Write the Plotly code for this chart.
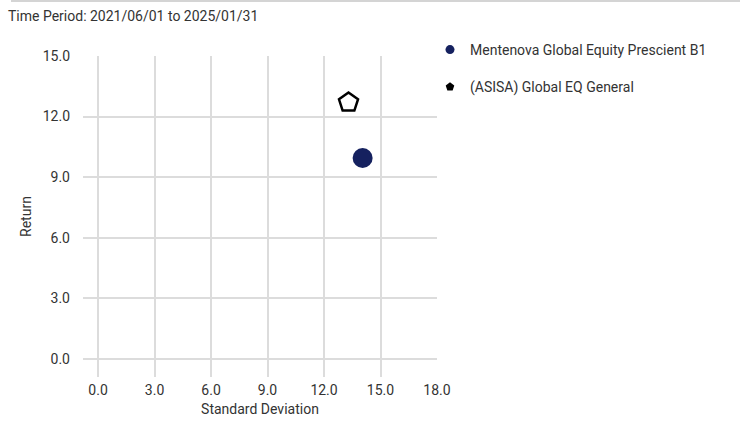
import plotly.graph_objects as go

names = ["Mentenova Global Equity Prescient B1", "(ASISA) Global EQ General"]
std_dev = [14.05, 13.3]
returns = [9.95, 12.7]
symbols = ["circle", "pentagon-open"]
colors = ["#15215f", "#000000"]
x_ticks = [0, 3, 6, 9, 12, 15, 18]
y_ticks = [0, 3, 6, 9, 12, 15]

FONT = "Roboto, Arial, sans-serif"
W, H = 746, 447
L, R, T, B = 83, 309, 56, 70
pw, ph = W - L - R, H - T - B

def px(x):
    return (x - L) / pw

def py(y):
    return (H - B - y) / ph

fig = go.Figure()
for i in range(len(names)):
    fig.add_trace(go.Scatter(
        x=[std_dev[i]], y=[returns[i]], mode="markers", name=names[i],
        legendgroup=str(i), showlegend=False,
        marker=dict(symbol=symbols[i], size=20, color=colors[i],
                    line=dict(width=2.5 if i == 1 else 0, color=colors[i])),
    ))
    fig.add_trace(go.Scatter(
        x=[None], y=[None], mode="markers", name=names[i],
        legendgroup=str(i), showlegend=True,
        marker=dict(symbol="circle" if i == 0 else "pentagon", size=9, color=colors[i],
                    line=dict(width=0)),
    ))

fig.update_layout(
    width=W, height=H,
    margin=dict(l=L, r=R, t=T, b=B, autoexpand=False),
    paper_bgcolor="white", plot_bgcolor="white",
    font=dict(family=FONT, size=14, color="#333333"),
    showlegend=True,
    legend=dict(x=px(430), y=py(34), xanchor="left", yanchor="top",
                font=dict(size=14, color="#333333"), tracegroupgap=16,
                itemsizing="trace", itemwidth=30, bgcolor="rgba(0,0,0,0)"),
    xaxis=dict(range=[-0.8, 18], tickvals=x_ticks, ticktext=[f"{v:.1f}" for v in x_ticks],
               showgrid=True, gridcolor="#dcdcdc", gridwidth=1.5, zeroline=False,
               showline=False, ticks="", ticklabelstandoff=3, automargin=False,
               title=dict(text="Standard Deviation", standoff=7, font=dict(size=14))),
    yaxis=dict(range=[-0.9, 15], tickvals=y_ticks, ticktext=[f"{v:.1f}" for v in y_ticks],
               showgrid=True, gridcolor="#dcdcdc", gridwidth=1.5, zeroline=False,
               showline=False, ticks="", ticklabelstandoff=12, automargin=False,
               title=dict(text="Return", standoff=7, font=dict(size=14))),
    shapes=[dict(type="line", xref="paper", yref="paper", x0=px(11), x1=px(740),
                 y0=py(1), y1=py(1), line=dict(color="#d4d4d4", width=2))],
    annotations=[dict(text="Time Period: 2021/06/01 to 2025/01/31", xref="paper", yref="paper",
                      x=px(6), y=py(16), xanchor="left", yanchor="middle", showarrow=False,
                      font=dict(size=14, color="#333333"))],
)

fig.write_html("out.html", config={"displayModeBar": False},
               post_script="document.body.style.margin='0';")
